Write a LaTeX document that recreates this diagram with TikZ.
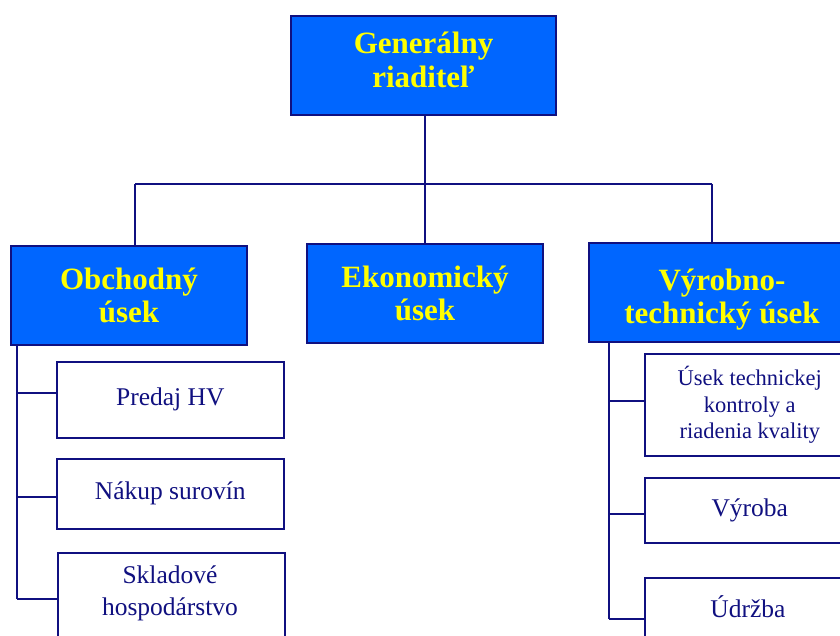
\documentclass[tikz,border=0pt]{standalone}
\usepackage{fontspec}
\setmainfont{Liberation Serif}
\definecolor{boxblue}{RGB}{0,102,255}
\definecolor{navy}{RGB}{16,16,128}
\definecolor{txtyellow}{RGB}{255,255,0}
\begin{document}
\begin{tikzpicture}[x=1pt,y=-1pt,
  line width=1.6pt,
  head/.style={draw=navy, fill=boxblue, line width=2pt, anchor=north west, align=center,
    text=txtyellow, font=\fontsize{31}{33.5}\selectfont\bfseries, inner sep=0pt},
  sub/.style={draw=navy, fill=white, line width=1.6pt, anchor=north west, align=center,
    text=navy, font=\fontsize{25.5}{31}\selectfont, inner sep=0pt},
  subsmall/.style={sub, font=\fontsize{22.5}{26.5}\selectfont},
  subtext/.style={text=navy, align=center, inner sep=0pt, font=\fontsize{25.5}{32}\selectfont},
  conn/.style={draw=navy, line width=1.6pt}]
\useasboundingbox (0,0) rectangle (840,636);
\clip (0,0) rectangle (840,636);
% head boxes
\node[head, minimum width=265pt, minimum height=99pt] (ceo) at (290,15) {Generálny\\riaditeľ\rule[-12pt]{0pt}{0pt}};
\node[head, minimum width=236pt, minimum height=99pt] (obch) at (10,245) {Obchodný\\úsek};
\node[head, minimum width=236pt, minimum height=99pt] (eko) at (306,243) {Ekonomický\\úsek};
\node[head, minimum width=266pt, minimum height=99pt] (vyr) at (588,242) {\rule{0pt}{36pt}Výrobno-\\technický úsek};
% sub boxes left
\node[sub, minimum width=227pt, minimum height=76pt] (c1) at (56,361) {Predaj HV};
\node[sub, minimum width=227pt, minimum height=70pt] (c2) at (56,458) {Nákup surovín};
\node[sub, minimum width=227pt, minimum height=94pt] (c3) at (57,552) {};
\node[subtext] (c3t) at (170,593) {Skladové\\hospodárstvo};
% sub boxes right
\node[subsmall, minimum width=210pt, minimum height=102pt] (r1) at (644,353) {Úsek technickej\\kontroly a\\riadenia kvality};
\node[sub, minimum width=210pt, minimum height=65pt] (r2) at (644,477) {Výroba};
\node[sub, minimum width=210pt, minimum height=84pt] (r3) at (644,577) {};
\node[subtext] (r3t) at (748,607) {Údržba};
% top tree
\coordinate (bl) at (135,184);
\coordinate (bm) at (425,184);
\coordinate (br) at (712,184);
\draw[conn] (ceo.south -| bm) -- (bm);
\draw[conn] (bl) -- (br);
\draw[conn] (bl) -- (bl |- obch.north);
\draw[conn] (bm) -- (bm |- eko.north);
\draw[conn] (br) -- (br |- vyr.north);
% left branch
\coordinate (l0) at (17,345);
\coordinate (l1) at (17,393);
\coordinate (l2) at (17,497);
\coordinate (l3) at (17,599);
\draw[conn] (l0) -- (l3);
\draw[conn] (l1) -- (l1 -| c1.west);
\draw[conn] (l2) -- (l2 -| c2.west);
\draw[conn] (l3) -- (l3 -| c3.west);
% right branch
\coordinate (q0) at (609,342);
\coordinate (q1) at (609,401);
\coordinate (q2) at (609,514);
\coordinate (q3) at (609,619);
\draw[conn] (q0) -- (q3);
\draw[conn] (q1) -- (q1 -| r1.west);
\draw[conn] (q2) -- (q2 -| r2.west);
\draw[conn] (q3) -- (q3 -| r3.west);
\end{tikzpicture}
\end{document}
